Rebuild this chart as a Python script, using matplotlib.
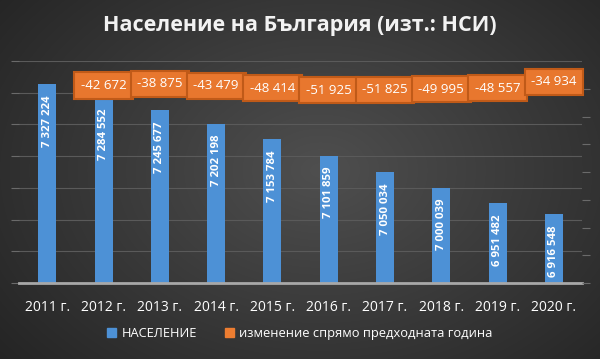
import numpy as np
import matplotlib
matplotlib.use("Agg")
from matplotlib import pyplot as plt
from matplotlib.patches import Patch

plt.rcParams['font.family'] = ['Open Sans', 'DejaVu Sans']

years = ['2011 г.', '2012 г.', '2013 г.', '2014 г.', '2015 г.',
         '2016 г.', '2017 г.', '2018 г.', '2019 г.', '2020 г.']
population = [7327224, 7284552, 7245677, 7202198, 7153784,
              7101859, 7050034, 7000039, 6951482, 6916548]
change = [None, -42672, -38875, -43479, -48414,
          -51925, -51825, -49995, -48557, -34934]


def fmt(v):
    return f'{v:,}'.replace(',', ' ')


fig = plt.figure(figsize=(6, 3.59), dpi=100)

# radial gradient background
bg = fig.add_axes([0, 0, 1, 1])
yy, xx = np.mgrid[0:359, 0:600]
r = np.sqrt(((xx - 320) / 420.0) ** 2 + ((yy - 170) / 300.0) ** 2)
shade = np.clip(0.31 - 0.17 * r, 0.11, 0.31)
bg.imshow(np.dstack([shade, shade, shade]), aspect='auto', extent=[0, 1, 0, 1])
bg.axis('off')

ax = fig.add_axes([0.032, 0.2117, 0.938, 0.6184])
ax.patch.set_alpha(0)
x = np.arange(len(years))
bars = ax.bar(x, population, width=0.32, color='#4d91d6', zorder=3)
ax.set_xlim(-0.5, len(years) - 0.5)
ax.set_ylim(6700000, 7400000)
ax.set_yticks(np.arange(6700000, 7400001, 100000))
ax.set_yticklabels([])
ax.grid(axis='y', color='#5a5a5a', lw=0.8, zorder=0)
ax.tick_params(axis='y', length=6, color='#6a6a6a', width=0.8)
ax.tick_params(axis='x', length=0, pad=12, labelcolor='white', labelsize=10)
ax.set_xticks(x)
ax.set_xticklabels(years)
for s in ['top', 'right', 'left']:
    ax.spines[s].set_visible(False)
ax.spines['bottom'].set_color('#a8a8a8')
ax.spines['bottom'].set_linewidth(2)
ax.spines['bottom'].set_zorder(4)

for xi, v in zip(x, population):
    ax.annotate(fmt(v), (xi, v), xytext=(0, -8), textcoords='offset points',
                rotation=90, ha='center', va='top', color='white',
                fontsize=8.2, fontweight='bold', zorder=5)

# secondary axis for the change labels
ax2 = ax.twinx()
lo, hi = -445000, 7200
ax2.set_ylim(lo, hi)
ax2.set_yticks(np.linspace(lo, lo + (hi - lo) * 194 / 222, 8))
ax2.set_yticklabels([])
ax2.tick_params(axis='y', length=6, color='#6a6a6a', width=0.8)
for s in ax2.spines.values():
    s.set_visible(False)

for xi, v in zip(x, change):
    if v is None:
        continue
    ax2.text(xi, v, fmt(v), ha='center', va='center', color='white',
             fontsize=9.5, zorder=6,
             bbox=dict(boxstyle='square,pad=0.5', fc='#e8772e',
                       ec='#c05a18', lw=1.5))

fig.text(0.5, 0.93, 'Население на България (изт.: НСИ)', ha='center',
         va='center', color='#f2f2f2', fontsize=15.5, fontweight='bold')

handles = [Patch(color='#4d91d6'), Patch(color='#ed7d31')]
fig.legend(handles, ['НАСЕЛЕНИЕ', 'изменение спрямо предходната година'],
           loc='center', bbox_to_anchor=(0.5, 0.072), ncol=2, frameon=False,
           handlelength=0.7, handleheight=0.7, handletextpad=0.4,
           columnspacing=2.2, fontsize=9.3, labelcolor='white')

fig.savefig('out.png', dpi=100)
